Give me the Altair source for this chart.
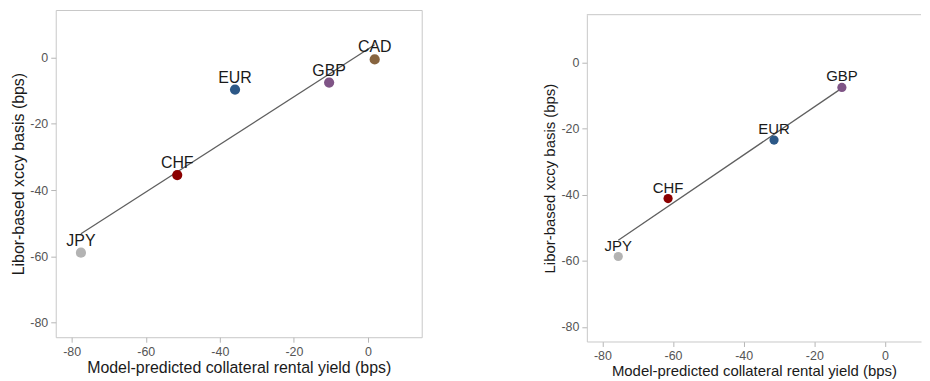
import altair as alt
import pandas as pd

FONT = "Liberation Sans"

# ---- data ----
left_ccy = ["JPY", "CHF", "EUR", "GBP", "CAD"]
left_x = [-77.5, -51.5, -35.9, -10.5, 1.8]
left_y = [-58.9, -35.5, -9.7, -7.6, -0.6]
left_fit_x = [-77.5, 1.8]
left_fit_y = [-53.2, 3.8]

right_ccy = ["JPY", "CHF", "EUR", "GBP"]
right_x = [-75.5, -61.4, -31.4, -12.2]
right_y = [-58.7, -41.2, -23.5, -7.6]
right_fit_x = [-75.5, -12.2]
right_fit_y = [-53.8, -7.8]

tick_values = [-80, -60, -40, -20, 0]
ccy_order = ["JPY", "CHF", "EUR", "GBP", "CAD"]
ccy_colors = ["#b3b3b3", "#8b0000", "#2c5887", "#7f5486", "#87643f"]

x_title = "Model-predicted collateral rental yield (bps)"
y_title = "Libor-based xccy basis (bps)"

FRAME = "#c8c8c8"
color_scale = alt.Scale(domain=ccy_order, range=ccy_colors)
label_expr = "(datum.value < 0 ? '-' : '') + abs(datum.value)"


def make_axis(title, title_fs, title_pad, domain):
    kw = dict(
        values=tick_values, grid=False, domain=domain, tickColor="#b5b5b5",
        tickSize=5, labelColor="#555555", labelFontSize=12.5, labelPadding=3,
        labelFont=FONT, labelExpr=label_expr, title=title, titleFont=FONT,
        titleFontSize=title_fs, titleFontWeight="normal", titleColor="#1a1a1a",
        titlePadding=title_pad,
    )
    if domain:
        kw["domainColor"] = FRAME
    return alt.Axis(**kw)


def panel(ccy, xs, ys, fx, fy, xdom, ydom, yrange, title_fs, text_fs, size, dy, domain):
    df = pd.DataFrame({"ccy": ccy, "x": xs, "y": ys})
    fit = pd.DataFrame({"x": fx, "y": fy})
    xs_ = alt.Scale(domain=xdom, nice=False, zero=False)
    if yrange is None:
        ys_ = alt.Scale(domain=ydom, nice=False, zero=False)
    else:
        ys_ = alt.Scale(domain=ydom, nice=False, zero=False, range=yrange)
    xenc = alt.X("x:Q", scale=xs_, axis=make_axis(x_title, title_fs, 2, domain))
    yenc = alt.Y("y:Q", scale=ys_, axis=make_axis(y_title, title_fs, 3, domain))
    line = alt.Chart(fit).mark_line(color="#5f5f5f", strokeWidth=1.3).encode(x=xenc, y=yenc)
    pts = alt.Chart(df).mark_circle(size=size, opacity=1).encode(
        x=xenc, y=yenc,
        color=alt.Color("ccy:N", scale=color_scale, legend=None),
    )
    txt = alt.Chart(df).mark_text(
        dy=dy, baseline="alphabetic", align="center", fontSize=text_fs,
        font=FONT, color="#1a1a1a",
    ).encode(x=xenc, y=yenc, text="ccy:N")
    return line, pts, txt


l_line, l_pts, l_txt = panel(left_ccy, left_x, left_y, left_fit_x, left_fit_y,
                             [-84.3, 14.5], [-84.4, 14.3], None, 16, 16, 105, -7, False)
left = alt.layer(l_line, l_pts, l_txt).properties(
    width=368, height=329,
    view=alt.ViewBackground(stroke=FRAME, strokeWidth=1),
)

R_W = 336
R_H = 333.3
r_line, r_pts, r_txt = panel(right_ccy, right_x, right_y, right_fit_x, right_fit_y,
                             [-84.4, 10.2], [-84.4, 14.4], [R_H, 4.7], 15, 15, 85, -6, True)
top_rule = alt.Chart(pd.DataFrame({"k": [0]})).mark_rule(color=FRAME, strokeWidth=1).encode(
    x=alt.value(0), x2=alt.value(R_W), y=alt.value(4.7)
)
right = alt.layer(r_line, r_pts, r_txt, top_rule).properties(
    width=R_W, height=R_H,
    view=alt.ViewBackground(stroke="transparent"),
)

chart = alt.hconcat(left, right, spacing=120).properties(
    padding={"left": 2, "top": 0, "right": 0, "bottom": 0},
    background="white",
).configure_view(stroke="transparent")

chart.save("out.html", embed_options={"renderer": "svg", "actions": False})
